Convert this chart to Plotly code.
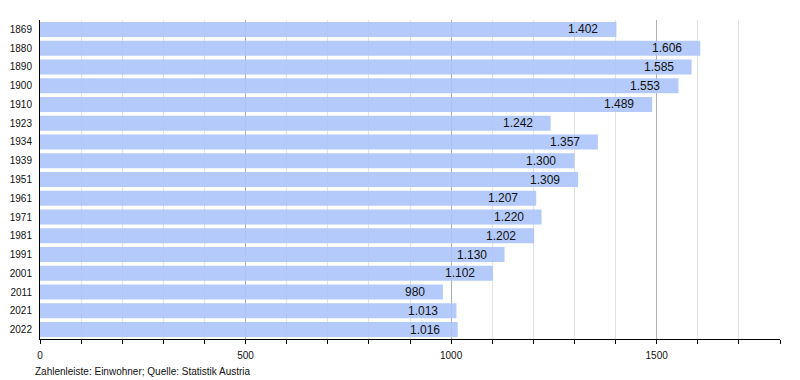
import plotly.graph_objects as go

years = ["1869", "1880", "1890", "1900", "1910", "1923", "1934", "1939", "1951",
         "1961", "1971", "1981", "1991", "2001", "2011", "2021", "2022"]
population = [1402, 1606, 1585, 1553, 1489, 1242, 1357, 1300, 1309,
              1207, 1220, 1202, 1130, 1102, 980, 1013, 1016]
x_ticks = [0, 500, 1000, 1500]
footer = "Zahlenleiste: Einwohner; Quelle: Statistik Austria"

font_family = "Liberation Sans, Arial, sans-serif"

fig = go.Figure()
fig.add_trace(go.Bar(
    x=population,
    y=years,
    orientation="h",
    marker=dict(color="rgb(172,197,250)", line=dict(width=0)),
    opacity=0.9,
    hoverinfo="skip",
))

for i, val in enumerate(population):
    fig.add_annotation(
        x=val, y=i, xref="x", yref="y",
        text=f"{val:,}".replace(",", "."),
        showarrow=False, xanchor="right", yanchor="middle",
        xshift=-16,
        font=dict(family=font_family, size=12, color="#111111"),
    )

fig.add_annotation(
    x=0, y=0, xref="paper", yref="paper", xanchor="left", yanchor="top",
    xshift=-7, yshift=-25,
    text=footer, showarrow=False,
    font=dict(family=font_family, size=10, color="#111111"),
)

# the HTML page body has an 8px margin, compensated here
fig.update_layout(
    width=800, height=380,
    margin=dict(l=32, r=28, t=12, b=49),
    paper_bgcolor="white", plot_bgcolor="white",
    bargap=0.2,
    showlegend=False,
    font=dict(family=font_family, size=10, color="#111111"),
)

fig.update_xaxes(
    range=[0, 1800],
    tickvals=x_ticks,
    automargin=False,
    ticks="outside", ticklen=4, tickcolor="black", tickwidth=1,
    ticklabelstandoff=3,
    showgrid=True, gridcolor="#b0b0b0", gridwidth=1,
    showline=True, linecolor="black", linewidth=1,
    zeroline=False,
    minor=dict(dtick=100, showgrid=True, gridcolor="#e2e2e2", gridwidth=1,
               ticks="outside", ticklen=4, tickcolor="black"),
    tickfont=dict(size=10, family=font_family, color="#111111"),
    fixedrange=True,
)
fig.update_yaxes(
    type="category",
    categoryorder="array", categoryarray=years,
    range=[len(years) - 0.5, -0.5],
    automargin=False,
    showgrid=False,
    showline=True, linecolor="black", linewidth=1,
    ticks="", ticklabelstandoff=5,
    tickfont=dict(size=10, family=font_family, color="#111111"),
    fixedrange=True,
)

fig.write_html("out.html")
